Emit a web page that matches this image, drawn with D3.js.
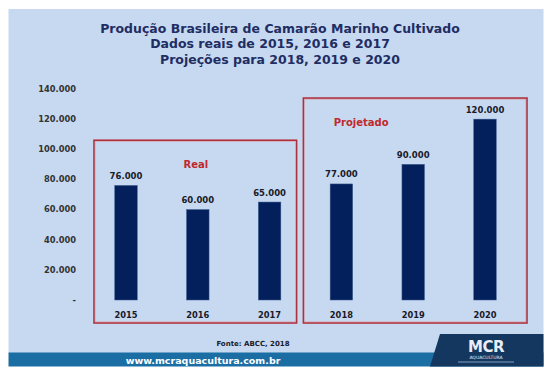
<!DOCTYPE html>
<html><head><meta charset="utf-8">
<script src="https://cdn.jsdelivr.net/npm/d3@7"></script>
<style>body{margin:0;background:#fff}svg{display:block}text{font-family:"DejaVu Sans",Verdana,sans-serif}</style>
</head><body><svg id="c" width="552" height="376"></svg>
<script>
const years = ["2015","2016","2017","2018","2019","2020"];
const values = [76000,60000,65000,77000,90000,120000];
const yTicks = [0,20000,40000,60000,80000,100000,120000,140000];
const titleLines = ["Produção Brasileira de Camarão Marinho Cultivado","Dados reais de 2015, 2016 e 2017","Projeções para 2018, 2019 e 2020"];
const groups = [{name:"Real", from:"2015", to:"2017", top:106000, padL:32, padR:27},
                {name:"Projetado", from:"2018", to:"2020", top:134000, padL:38, padR:42}];
const source = "Fonte: ABCC, 2018";
const site = "www.mcraquacultura.com.br";

const svg = d3.select("#c");
const fmt = v => v === 0 ? "-" : d3.format(",")(v).replace(/,/g, ".");

// panel
svg.append("rect").attr("x",8.5).attr("y",9).attr("width",535).attr("height",344).attr("fill","#c6d9f0");
// bottom band
svg.append("rect").attr("x",8.5).attr("y",352.5).attr("width",535).attr("height",14).attr("fill","#1b6ea3");
svg.append("path").attr("d","M430,366.5 L440,334 L543.5,334 L543.5,366.5 Z").attr("fill","#13375f");
svg.append("text").attr("x",203).attr("y",363.5).attr("text-anchor","middle").attr("fill","#fff")
  .attr("font-weight","bold").attr("font-size",9.5).text(site);
svg.append("text").attr("x",486).attr("y",352).attr("text-anchor","middle").attr("fill","#e8eef6")
  .attr("font-weight","bold").attr("font-size",15).attr("font-family","Liberation Sans").attr("letter-spacing",-0.5).text("MCR");
svg.append("text").attr("x",486).attr("y",358.5).attr("text-anchor","middle").attr("fill","#e8eef6")
  .attr("font-size",4.5).text("AQUACULTURA");
svg.append("rect").attr("x",458).attr("y",361).attr("width",56).attr("height",2).attr("fill","#4a6a90");

// title
svg.append("g").selectAll("text").data(titleLines).join("text")
  .attr("x",(d,i)=> i===1 ? 270 : 280).attr("y",(d,i)=>33+i*15.3).attr("text-anchor","middle")
  .attr("fill","#1f2d63").attr("font-weight","bold").attr("font-size",12.5).text(d=>d);

const x = d3.scalePoint().domain(years).range([126,485]);
const y = d3.scaleLinear().domain([0,140000]).range([300,89]);
const bw = 22.5;

// y ticks
svg.append("g").selectAll("text").data(yTicks).join("text")
  .attr("x",76).attr("y",d=>y(d)).attr("dy","0.35em").attr("text-anchor","end")
  .attr("fill","#333").attr("font-weight","bold").attr("font-size",8.3).text(fmt);

// group boxes
groups.forEach(g=>{
  const x0 = x(g.from)-g.padL, x1 = x(g.to)+g.padR;
  const y0 = y(g.top), y1 = y(0)+23;
  svg.append("rect").attr("x",x0).attr("y",y0).attr("width",x1-x0).attr("height",y1-y0)
    .attr("fill","none").attr("stroke","#b0303c").attr("stroke-width",1.6);
  svg.append("rect").attr("x",x0+1.2).attr("y",y0+1.2).attr("width",x1-x0-2.4).attr("height",y1-y0-2.4)
    .attr("fill","none").attr("stroke","#d9a0aa").attr("stroke-width",0.6);
  svg.append("text").attr("x",(x(g.from)+x(g.to))/2 + (g.name==="Real"?-2:-52))
    .attr("y",y0+ (g.name==="Real"?28:28)).attr("text-anchor","middle")
    .attr("fill","#c0282d").attr("font-weight","bold").attr("font-size",10).text(g.name);
});

// bars
svg.append("g").selectAll("rect").data(values).join("rect")
  .attr("x",(d,i)=>x(years[i])-bw/2).attr("y",d=>y(d)).attr("width",bw).attr("height",d=>y(0)-y(d))
  .attr("fill","#04205c").attr("stroke","#3a5a90").attr("stroke-width",0.5);
svg.append("g").selectAll("text").data(values).join("text")
  .attr("x",(d,i)=>x(years[i])).attr("y",d=>y(d)-6.5).attr("text-anchor","middle")
  .attr("fill","#1a1a2a").attr("font-weight","bold").attr("font-size",8.5).text(fmt);
// x labels
svg.append("g").selectAll("text").data(years).join("text")
  .attr("x",d=>x(d)).attr("y",317.5).attr("text-anchor","middle")
  .attr("fill","#1a1a2a").attr("font-weight","bold").attr("font-size",8.3).text(d=>d);

svg.append("text").attr("x",253).attr("y",345.5).attr("text-anchor","middle")
  .attr("fill","#1a1a2a").attr("font-weight","bold").attr("font-size",7).text(source);
</script></body></html>
